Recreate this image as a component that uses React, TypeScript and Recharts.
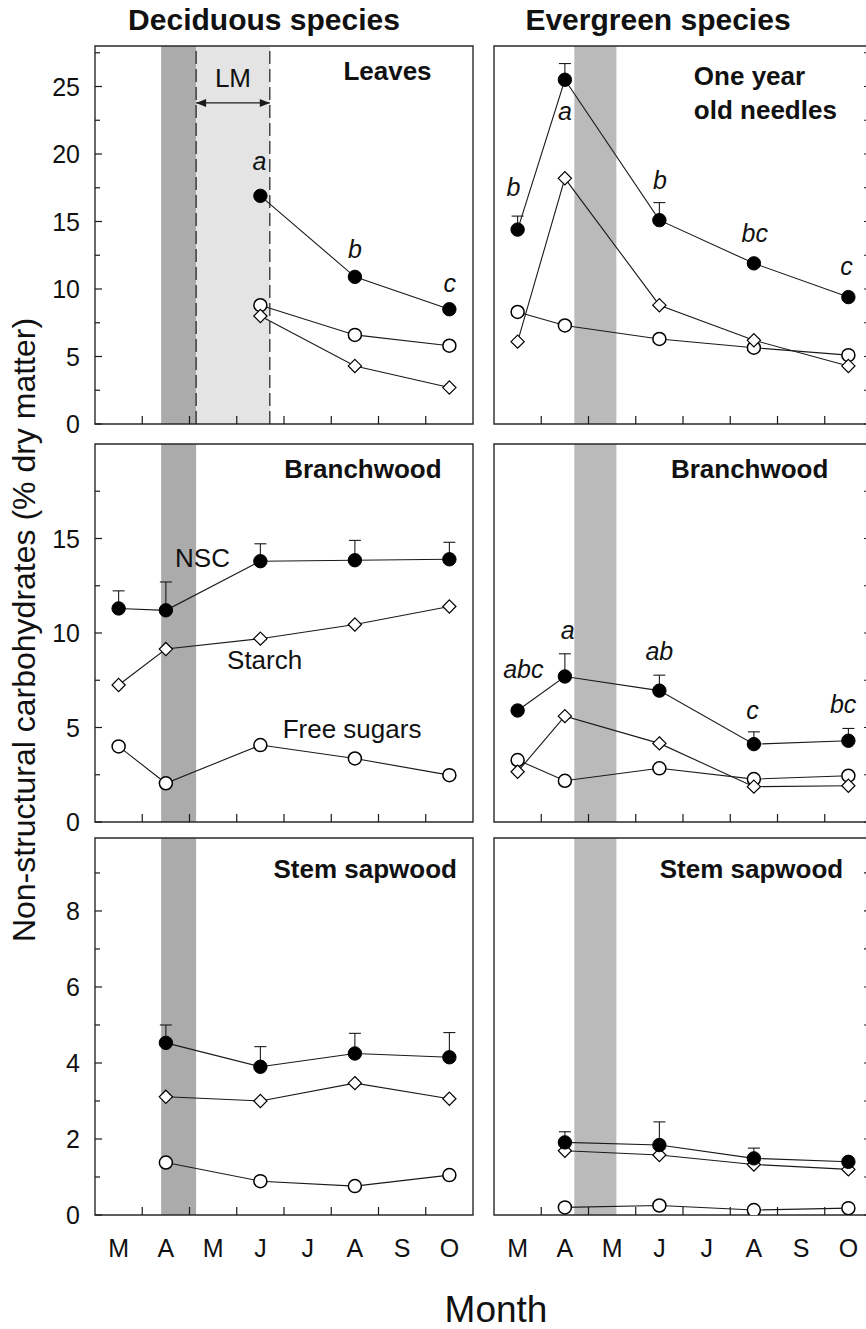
import React from "react";
import {
  LineChart,
  Line,
  XAxis,
  YAxis,
  ReferenceArea,
  ReferenceLine,
  ReferenceDot,
  ErrorBar,
} from "recharts";

const FONT = '"Liberation Sans", Arial, Helvetica, sans-serif';
const INK = "#1a1a1a";

// ---------- categories / ticks ----------
const monthLabels = ["M", "A", "M", "J", "J", "A", "S", "O"];
const xTickValues = [0.5, 1, 1.5, 2, 2.5, 3, 3.5, 4, 4.5, 5, 5.5, 6, 6.5, 7, 7.5];
const yTicksLeaves = [0, 2.5, 5, 7.5, 10, 12.5, 15, 17.5, 20, 22.5, 25, 27.5];
const yTicksBranch = [0, 2.5, 5, 7.5, 10, 12.5, 15, 17.5];
const yTicksStem = [0, 1, 2, 3, 4, 5, 6, 7, 8, 9];

// ---------- Deciduous: leaves ----------
const decLeavesX = [3.5, 5.5, 7.5];
const decLeavesNSC = [16.9, 10.9, 8.5];
const decLeavesNSCErr = [0, 0, 0];
const decLeavesSugars = [8.8, 6.6, 5.8];
const decLeavesStarch = [8.0, 4.3, 2.7];
const decLeavesLetters = ["a", "b", "c"];

// ---------- Evergreen: one year old needles ----------
const evNeedlesX = [0.5, 1.5, 3.5, 5.5, 7.5];
const evNeedlesNSC = [14.4, 25.5, 15.1, 11.9, 9.4];
const evNeedlesNSCErr = [1.0, 1.2, 1.3, 0, 0];
const evNeedlesSugars = [8.3, 7.3, 6.3, 5.65, 5.1];
const evNeedlesStarch = [6.1, 18.2, 8.8, 6.2, 4.3];
const evNeedlesLetters = ["b", "a", "b", "bc", "c"];

// ---------- Deciduous: branchwood ----------
const decBranchX = [0.5, 1.5, 3.5, 5.5, 7.5];
const decBranchNSC = [11.3, 11.2, 13.8, 13.85, 13.9];
const decBranchNSCErr = [0.93, 1.5, 0.92, 1.05, 0.9];
const decBranchSugars = [4.0, 2.05, 4.07, 3.36, 2.48];
const decBranchStarch = [7.25, 9.15, 9.7, 10.45, 11.4];

// ---------- Evergreen: branchwood ----------
const evBranchX = [0.5, 1.5, 3.5, 5.5, 7.5];
const evBranchNSC = [5.9, 7.7, 6.95, 4.12, 4.3];
const evBranchNSCErr = [0, 1.2, 0.82, 0.65, 0.65];
const evBranchSugars = [3.28, 2.18, 2.84, 2.27, 2.45];
const evBranchStarch = [2.66, 5.6, 4.16, 1.87, 1.92];
const evBranchLetters = ["abc", "a", "ab", "c", "bc"];

// ---------- Deciduous: stem sapwood ----------
const decStemX = [1.5, 3.5, 5.5, 7.5];
const decStemNSC = [4.53, 3.9, 4.25, 4.15];
const decStemNSCErr = [0.47, 0.53, 0.53, 0.65];
const decStemSugars = [1.38, 0.89, 0.76, 1.05];
const decStemStarch = [3.11, 3.0, 3.47, 3.06];

// ---------- Evergreen: stem sapwood ----------
const evStemX = [1.5, 3.5, 5.5, 7.5];
const evStemNSC = [1.91, 1.84, 1.49, 1.4];
const evStemNSCErr = [0.28, 0.61, 0.27, 0];
const evStemSugars = [0.2, 0.25, 0.13, 0.18];
const evStemStarch = [1.69, 1.58, 1.33, 1.2];

// ---------- layout ----------
const PLOT_W = 378;
const ROWS = [
  { top: 46, h: 378 },
  { top: 444, h: 378 },
  { top: 838, h: 377 },
];

type TextItem = { x: number; y: number; t: string; kind: "title" | "titleStart" | "label" | "letter" };

type PanelCfg = {
  col: 0 | 1;
  row: 0 | 1 | 2;
  x: number[];
  nsc: number[];
  err: number[];
  sugars: number[];
  starch: number[];
  yMax: number;
  yTicks: number[];
  majorStep: number;
  bands: { x1: number; x2: number; color: string }[];
  dashed?: number[];
  arrow?: { x1: number; x2: number; y: number };
  texts: TextItem[];
};

const panels: PanelCfg[] = [
  {
    col: 0,
    row: 0,
    x: decLeavesX,
    nsc: decLeavesNSC,
    err: decLeavesNSCErr,
    sugars: decLeavesSugars,
    starch: decLeavesStarch,
    yMax: 28,
    yTicks: yTicksLeaves,
    majorStep: 5,
    bands: [
      { x1: 1.4, x2: 2.14, color: "#ababab" },
      { x1: 2.14, x2: 3.7, color: "#e4e4e4" },
    ],
    dashed: [2.14, 3.7],
    arrow: { x1: 2.14, x2: 3.7, y: 23.78 },
    texts: [
      { x: 6.19, y: 25.48, t: "Leaves", kind: "title" },
      { x: 2.92, y: 24.99, t: "LM", kind: "label" },
      { x: 3.48, y: 18.8, t: decLeavesLetters[0], kind: "letter" },
      { x: 5.5, y: 12.3, t: decLeavesLetters[1], kind: "letter" },
      { x: 7.51, y: 9.78, t: decLeavesLetters[2], kind: "letter" },
    ],
  },
  {
    col: 1,
    row: 0,
    x: evNeedlesX,
    nsc: evNeedlesNSC,
    err: evNeedlesNSCErr,
    sugars: evNeedlesSugars,
    starch: evNeedlesStarch,
    yMax: 28,
    yTicks: yTicksLeaves,
    majorStep: 5,
    bands: [{ x1: 1.7, x2: 2.59, color: "#bababa" }],
    texts: [
      { x: 4.23, y: 25.1, t: "One year", kind: "titleStart" },
      { x: 4.23, y: 22.57, t: "old needles", kind: "titleStart" },
      { x: 0.41, y: 16.9, t: evNeedlesLetters[0], kind: "letter" },
      { x: 1.5, y: 22.5, t: evNeedlesLetters[1], kind: "letter" },
      { x: 3.51, y: 17.4, t: evNeedlesLetters[2], kind: "letter" },
      { x: 5.52, y: 13.46, t: evNeedlesLetters[3], kind: "letter" },
      { x: 7.46, y: 11.04, t: evNeedlesLetters[4], kind: "letter" },
    ],
  },
  {
    col: 0,
    row: 1,
    x: decBranchX,
    nsc: decBranchNSC,
    err: decBranchNSCErr,
    sugars: decBranchSugars,
    starch: decBranchStarch,
    yMax: 20,
    yTicks: yTicksBranch,
    majorStep: 5,
    bands: [{ x1: 1.4, x2: 2.14, color: "#ababab" }],
    texts: [
      { x: 5.67, y: 18.18, t: "Branchwood", kind: "title" },
      { x: 2.275, y: 13.5, t: "NSC", kind: "label" },
      { x: 3.59, y: 8.08, t: "Starch", kind: "label" },
      { x: 5.44, y: 4.43, t: "Free sugars", kind: "label" },
    ],
  },
  {
    col: 1,
    row: 1,
    x: evBranchX,
    nsc: evBranchNSC,
    err: evBranchNSCErr,
    sugars: evBranchSugars,
    starch: evBranchStarch,
    yMax: 20,
    yTicks: yTicksBranch,
    majorStep: 5,
    bands: [{ x1: 1.7, x2: 2.59, color: "#bababa" }],
    texts: [
      { x: 5.41, y: 18.18, t: "Branchwood", kind: "title" },
      { x: 0.62, y: 7.6, t: evBranchLetters[0], kind: "letter" },
      { x: 1.56, y: 9.68, t: evBranchLetters[1], kind: "letter" },
      { x: 3.5, y: 8.57, t: evBranchLetters[2], kind: "letter" },
      { x: 5.47, y: 5.43, t: evBranchLetters[3], kind: "letter" },
      { x: 7.39, y: 5.78, t: evBranchLetters[4], kind: "letter" },
    ],
  },
  {
    col: 0,
    row: 2,
    x: decStemX,
    nsc: decStemNSC,
    err: decStemNSCErr,
    sugars: decStemSugars,
    starch: decStemStarch,
    yMax: 9.92,
    yTicks: yTicksStem,
    majorStep: 2,
    bands: [{ x1: 1.4, x2: 2.14, color: "#ababab" }],
    texts: [{ x: 5.72, y: 8.86, t: "Stem sapwood", kind: "title" }],
  },
  {
    col: 1,
    row: 2,
    x: evStemX,
    nsc: evStemNSC,
    err: evStemNSCErr,
    sugars: evStemSugars,
    starch: evStemStarch,
    yMax: 9.92,
    yTicks: yTicksStem,
    majorStep: 2,
    bands: [{ x1: 1.7, x2: 2.59, color: "#bababa" }],
    texts: [{ x: 5.45, y: 8.86, t: "Stem sapwood", kind: "title" }],
  },
];

// ---------- renderers ----------
const nscDot = (p: any) => (
  <circle key={`n-${p.index}`} cx={p.cx} cy={p.cy} r={6.7} fill="#000" stroke="#000" strokeWidth={1} />
);
const sugarDot = (p: any) => (
  <circle key={`s-${p.index}`} cx={p.cx} cy={p.cy} r={6.5} fill="#fff" stroke="#000" strokeWidth={1.5} />
);
const starchDot = (p: any) => {
  const s = 6.6;
  const { cx, cy } = p;
  return (
    <polygon
      key={`d-${p.index}`}
      points={`${cx},${cy - s} ${cx + s},${cy} ${cx},${cy + s} ${cx - s},${cy}`}
      fill="#fff"
      stroke="#000"
      strokeWidth={1.2}
    />
  );
};

function makeXTick(showLabels: boolean) {
  return (p: any) => {
    const v = p.payload.value;
    if (Number.isInteger(v)) {
      return <line x1={p.x} y1={p.y} x2={p.x} y2={p.y - 8} stroke={INK} strokeWidth={1.2} />;
    }
    if (!showLabels) return <g />;
    return (
      <text x={p.x} y={p.y + 42} textAnchor="middle" fontSize={25} fontFamily={FONT} fill="#111">
        {monthLabels[Math.floor(v)]}
      </text>
    );
  };
}

function makeYTick(side: "left" | "right", majorStep: number) {
  return (p: any) => {
    const v = p.payload.value;
    const r = v / majorStep;
    const major = Math.abs(r - Math.round(r)) < 1e-6;
    const len = major ? 7 : 5;
    if (side === "left") {
      return (
        <g>
          <line x1={p.x} y1={p.y} x2={p.x + len} y2={p.y} stroke={INK} strokeWidth={1.2} />
          {major ? (
            <text x={p.x - 15} y={p.y} dy="0.36em" textAnchor="end" fontSize={25} fontFamily={FONT} fill="#111">
              {v}
            </text>
          ) : null}
        </g>
      );
    }
    return <line x1={p.x} y1={p.y} x2={p.x - 8} y2={p.y} stroke={INK} strokeWidth={1.2} />;
  };
}

function textShape(item: TextItem) {
  return (p: any) => {
    let size = 26;
    let weight: any = "normal";
    let style: any = "normal";
    let anchor: any = "middle";
    if (item.kind === "title" || item.kind === "titleStart") weight = "bold";
    if (item.kind === "titleStart") anchor = "start";
    if (item.kind === "letter") {
      style = "italic";
      size = 25;
    }
    return (
      <text
        x={p.cx}
        y={p.cy}
        textAnchor={anchor}
        fontSize={size}
        fontWeight={weight}
        fontStyle={style}
        fontFamily={FONT}
        fill="#111"
      >
        {item.t}
      </text>
    );
  };
}

const arrowShape = (p: any) => {
  const { x1, y1, x2 } = p;
  const a = 10;
  const h = 4;
  return (
    <g>
      <line x1={x1} y1={y1} x2={x2} y2={y1} stroke={INK} strokeWidth={1.3} />
      <polygon points={`${x1},${y1} ${x1 + a},${y1 - h} ${x1 + a},${y1 + h}`} fill={INK} />
      <polygon points={`${x2},${y1} ${x2 - a},${y1 - h} ${x2 - a},${y1 + h}`} fill={INK} />
    </g>
  );
};

function Panel({ cfg }: { cfg: PanelCfg }) {
  const right = cfg.col === 1;
  const row = ROWS[cfg.row];
  const plotLeft = right ? 494 : 95;
  const yW = right ? 12 : 95;
  const margin = right
    ? { top: 10, right: 0, bottom: 0, left: 10 }
    : { top: 10, right: 12, bottom: 0, left: 0 };
  const xH = cfg.row === 2 ? 60 : 16;
  const width = margin.left + yW + PLOT_W + margin.right;
  const height = margin.top + row.h + xH;
  const left = right ? plotLeft - margin.left : plotLeft - yW;
  const data = cfg.x.map((x, i) => ({
    x,
    nsc: cfg.nsc[i],
    sugars: cfg.sugars[i],
    starch: cfg.starch[i],
    err: [0, cfg.err[i]],
  }));

  return (
    <div style={{ position: "absolute", left, top: row.top - margin.top, width, height }}>
      <LineChart width={width} height={height} data={data} margin={margin}>
        <XAxis
          type="number"
          dataKey="x"
          domain={[0, 8]}
          ticks={xTickValues}
          interval={0}
          allowDataOverflow
          axisLine={false}
          tickLine={false}
          tickSize={0}
          tickMargin={0}
          height={xH}
          tick={makeXTick(cfg.row === 2)}
        />
        <YAxis
          type="number"
          orientation={right ? "right" : "left"}
          domain={[0, cfg.yMax]}
          ticks={cfg.yTicks}
          interval={0}
          allowDataOverflow
          axisLine={false}
          tickLine={false}
          tickSize={0}
          tickMargin={0}
          width={yW}
          tick={makeYTick(right ? "right" : "left", cfg.majorStep)}
        />
        {cfg.bands.map((b, i) => (
          <ReferenceArea
            key={`band-${i}`}
            x1={b.x1}
            x2={b.x2}
            y1={0}
            y2={cfg.yMax}
            fill={b.color}
            fillOpacity={1}
            stroke="none"
            ifOverflow="visible"
          />
        ))}
        {(cfg.dashed || []).map((d, i) => (
          <ReferenceLine
            key={`dash-${i}`}
            x={d}
            stroke={INK}
            strokeWidth={1.2}
            strokeDasharray="13 5"
            ifOverflow="visible"
          />
        ))}
        {cfg.arrow ? (
          <ReferenceLine
            segment={[
              { x: cfg.arrow.x1, y: cfg.arrow.y },
              { x: cfg.arrow.x2, y: cfg.arrow.y },
            ]}
            stroke={INK}
            shape={arrowShape}
            ifOverflow="visible"
          />
        ) : null}
        <ReferenceArea
          x1={0}
          x2={8}
          y1={0}
          y2={cfg.yMax}
          fill="none"
          fillOpacity={0}
          stroke="#2a2a2a"
          strokeWidth={1.4}
          ifOverflow="visible"
        />
        <Line
          type="linear"
          dataKey="sugars"
          stroke={INK}
          strokeWidth={1.1}
          dot={sugarDot}
          activeDot={false}
          isAnimationActive={false}
        />
        <Line
          type="linear"
          dataKey="starch"
          stroke={INK}
          strokeWidth={1.1}
          dot={starchDot}
          activeDot={false}
          isAnimationActive={false}
        />
        <Line
          type="linear"
          dataKey="nsc"
          stroke={INK}
          strokeWidth={1.1}
          dot={nscDot}
          activeDot={false}
          isAnimationActive={false}
        >
          <ErrorBar dataKey="err" direction="y" width={6} stroke={INK} strokeWidth={1.1} />
        </Line>
        {cfg.texts.map((t, i) => (
          <ReferenceDot key={`txt-${i}`} x={t.x} y={t.y} r={0} ifOverflow="visible" shape={textShape(t)} />
        ))}
      </LineChart>
    </div>
  );
}

export default function App() {
  return (
    <div
      style={{
        position: "absolute",
        left: 0,
        top: 0,
        width: 866,
        height: 1329,
        overflow: "hidden",
        background: "#fff",
        fontFamily: FONT,
      }}
    >
      <svg width={866} height={1329} style={{ position: "absolute", left: 0, top: 0 }}>
        <text x={264} y={30} textAnchor="middle" fontSize={30} fontWeight="bold" fontFamily={FONT} fill="#111">
          Deciduous species
        </text>
        <text x={658} y={30} textAnchor="middle" fontSize={30} fontWeight="bold" fontFamily={FONT} fill="#111">
          Evergreen species
        </text>
        <text x={496} y={1322} textAnchor="middle" fontSize={37} fontFamily={FONT} fill="#111">
          Month
        </text>
        <text
          transform="translate(24,630) rotate(-90)"
          textAnchor="middle"
          dy="0.35em"
          fontSize={32}
          fontFamily={FONT}
          fill="#111"
        >
          Non-structural carbohydrates (% dry matter)
        </text>
      </svg>
      {panels.map((p, i) => (
        <Panel key={i} cfg={p} />
      ))}
    </div>
  );
}
